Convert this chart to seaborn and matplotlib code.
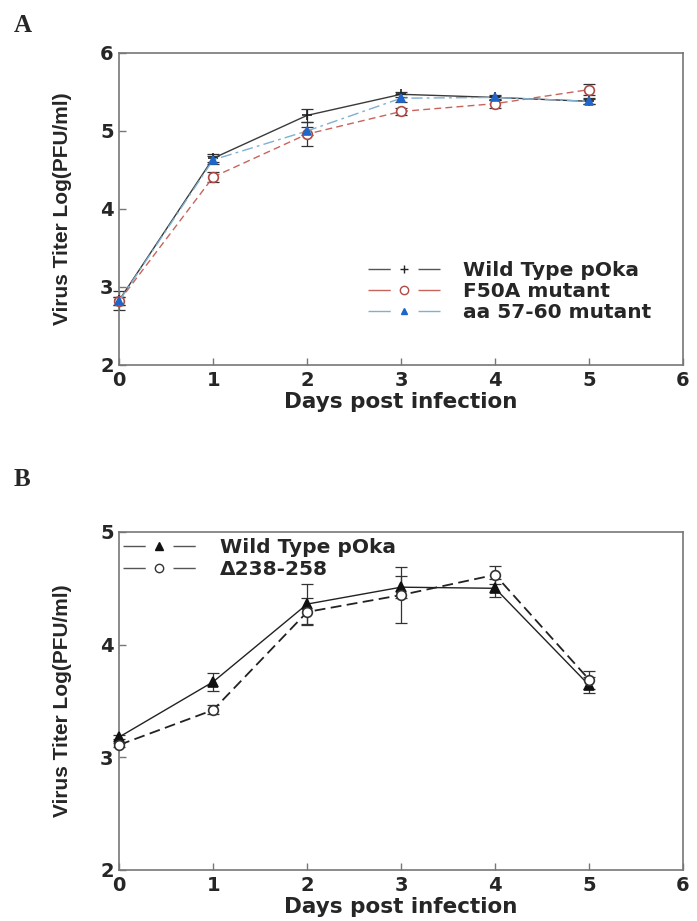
import numpy as np
import pandas as pd
import matplotlib
matplotlib.use("Agg")
import matplotlib.pyplot as plt
import seaborn as sns
from matplotlib.lines import Line2D

# Panel A: growth curves of pOka and two mutants
days = [0, 1, 2, 3, 4, 5]
a_wt = [2.83, 4.65, 5.20, 5.47, 5.43, 5.38]
a_wt_err = [0.12, 0.05, 0.08, 0.03, 0.02, 0.03]
a_f50a = [2.82, 4.41, 4.96, 5.25, 5.35, 5.53]
a_f50a_err = [0.05, 0.06, 0.15, 0.05, 0.05, 0.07]
a_aa57 = [2.82, 4.63, 5.00, 5.42, 5.43, 5.38]
a_aa57_err = [0.05, 0.05, 0.05, 0.05, 0.03, 0.04]
a_labels = ["Wild Type pOka", "F50A mutant", "aa 57-60 mutant"]

# Panel B: pOka vs deletion mutant
b_wt = [3.18, 3.67, 4.36, 4.51, 4.50, 3.64]
b_wt_err = [0.02, 0.08, 0.18, 0.10, 0.08, 0.07]
b_del = [3.11, 3.42, 4.29, 4.44, 4.62, 3.69]
b_del_err = [0.02, 0.04, 0.12, 0.25, 0.08, 0.08]
b_labels = ["Wild Type pOka", "\u0394238-258"]

x_ticks = [0, 1, 2, 3, 4, 5, 6]

sns.set_style("ticks")
plt.rcParams['font.family'] = ['DejaVu Sans']

fig = plt.figure(figsize=(6.97, 9.21), dpi=100)
ax_a = fig.add_axes([0.171, 0.6037, 0.809, 0.3388])
ax_b = fig.add_axes([0.171, 0.0554, 0.809, 0.367])


def draw_series(ax, y, err, color, mcolor, ls, marker, mfc, ms, lw=1.0):
    df = pd.DataFrame({"day": days, "titer": y})
    sns.lineplot(data=df, x="day", y="titer", ax=ax, color=color, linestyle=ls,
                 linewidth=lw, marker=marker, markersize=ms, markerfacecolor=mfc,
                 markeredgecolor=mcolor, markeredgewidth=1.2, clip_on=False, zorder=3)
    ax.errorbar(days, y, yerr=err, fmt="none", ecolor="#333333", elinewidth=0.9,
                capsize=4, capthick=0.9, clip_on=False, zorder=2)


def style_axes(ax, ymin, ymax):
    ax.set_xlim(0, 6)
    ax.set_ylim(ymin, ymax)
    ax.set_xticks(x_ticks)
    ax.set_yticks(range(ymin, ymax + 1))
    for s in ax.spines.values():
        s.set_visible(True)
        s.set_color("#777777")
        s.set_linewidth(1.2)
    ax.tick_params(direction="in", length=5, color="#777777", width=1.0,
                   labelsize=14, pad=4)
    for t in ax.get_xticklabels() + ax.get_yticklabels():
        t.set_fontweight("bold")
    ax.set_xlabel("Days post infection", fontsize=15.5, fontweight="bold", labelpad=2)
    ax.set_ylabel("Virus Titer Log(PFU/ml)", fontsize=15, family="Liberation Sans",
                  fontweight="bold", labelpad=20)


leg_ls = (0, (16, 20))

# ---- Panel A ----
draw_series(ax_a, a_wt, a_wt_err, "#3a3a3a", "#222222", "-", "+", "none", 7)
draw_series(ax_a, a_f50a, a_f50a_err, "#c8645c", "#b04a44", (0, (5, 3)), "o", "white", 7)
draw_series(ax_a, a_aa57, a_aa57_err, "#7fb0d0", "#1f66c8", (0, (8, 3, 2, 3)), "^", "#1f66c8", 6)
style_axes(ax_a, 2, 6)

hA = [
    Line2D([], [], color="#555555", ls=leg_ls, lw=1.0, marker="+", ms=6, mec="#222222"),
    Line2D([], [], color="#c8645c", ls=leg_ls, lw=1.0, marker="o", ms=6, mfc="white", mec="#b04a44"),
    Line2D([], [], color="#7fb0d0", ls=leg_ls, lw=1.0, marker="^", ms=5, mfc="#1f66c8", mec="#1f66c8"),
]
ax_a.legend(hA, a_labels, loc="lower right", bbox_to_anchor=(0.975, 0.08), frameon=False,
            prop={"weight": "bold", "size": 14.5}, handlelength=3.6, handletextpad=1.1,
            labelspacing=0.1)

# ---- Panel B ----
draw_series(ax_b, b_wt, b_wt_err, "#222222", "#111111", "-", "^", "#111111", 7)
draw_series(ax_b, b_del, b_del_err, "#222222", "#333333", (0, (6, 3)), "o", "white", 7, lw=1.3)
style_axes(ax_b, 2, 5)

hB = [
    Line2D([], [], color="#555555", ls=leg_ls, lw=1.0, marker="^", ms=6, mfc="#111111", mec="#111111"),
    Line2D([], [], color="#555555", ls=leg_ls, lw=1.0, marker="o", ms=6, mfc="white", mec="#333333"),
]
ax_b.legend(hB, b_labels, loc="upper left", bbox_to_anchor=(-0.025, 1.035), frameon=False,
            prop={"weight": "bold", "size": 14.5}, handlelength=3.6, handletextpad=1.2,
            labelspacing=0.15)

# Panel letters
fig.text(0.02, 0.965, "A", family="Liberation Serif", fontweight="bold", fontsize=18)
fig.text(0.02, 0.472, "B", family="Liberation Serif", fontweight="bold", fontsize=18)

fig.savefig("out.png", dpi=100)
